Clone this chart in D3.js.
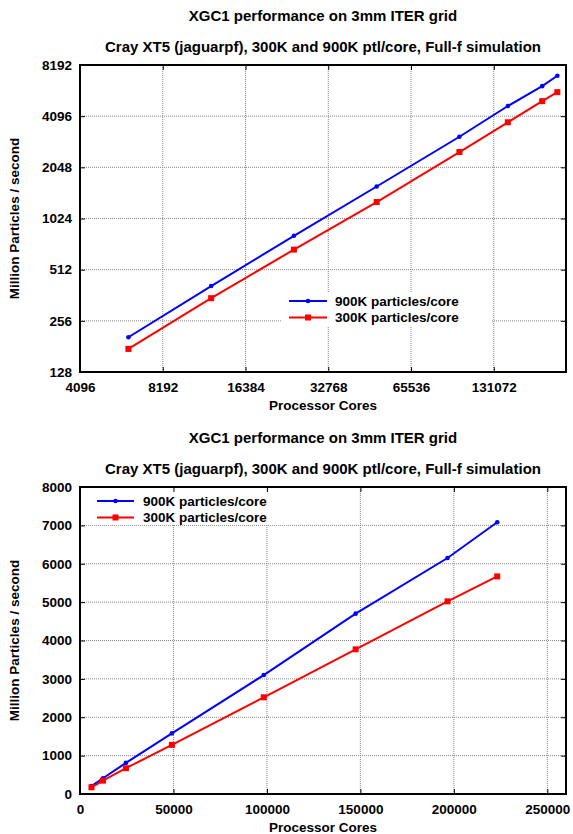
<!DOCTYPE html>
<html>
<head>
<meta charset="utf-8">
<script src="https://cdn.jsdelivr.net/npm/d3@7"></script>
<style>
  body { margin: 0; background: #fff; }
  svg text { font-family: "Liberation Sans", Arial, sans-serif; font-weight: bold; fill: #000; }
  .grid line { stroke: #888; stroke-dasharray: 1,1; }
</style>
</head>
<body>
<svg id="chart" width="573" height="834"></svg>
<script>
// processor cores used in the runs
var cores = [6144, 12288, 24576, 49152, 98304, 147456, 196608, 223200];
// million particles / second
var rate900K = [205, 410, 810, 1580, 3100, 4700, 6150, 7080];
var rate300K = [175, 348, 672, 1280, 2520, 3770, 5020, 5670];

var logXTicks = [4096, 8192, 16384, 32768, 65536, 131072];
var logYTicks = [128, 256, 512, 1024, 2048, 4096, 8192];
var linXTicks = [0, 50000, 100000, 150000, 200000, 250000];
var linYTicks = [0, 1000, 2000, 3000, 4000, 5000, 6000, 7000, 8000];

var title = "XGC1 performance on 3mm ITER grid";
var subtitle = "Cray XT5 (jaguarpf), 300K and 900K ptl/core, Full-f simulation";

var series = [
  { name: "900K particles/core", values: rate900K, color: "#0000ff", marker: "dot" },
  { name: "300K particles/core", values: rate300K, color: "#ff0000", marker: "square" }
];

var svg = d3.select("#chart");

function drawPanel(top, x, y, xTicks, yTicks, legend) {
  var left = 80, right = 566, plotTop = top, plotBottom = top + 307;
  var g = svg.append("g");

  g.append("text").attr("x", (left + right) / 2).attr("y", plotTop - 44)
    .attr("text-anchor", "middle").style("font-size", "15px").text(title);
  g.append("text").attr("x", (left + right) / 2).attr("y", plotTop - 13)
    .attr("text-anchor", "middle").style("font-size", "15px").text(subtitle);

  // grid
  var grid = g.append("g").attr("class", "grid");
  grid.selectAll("line.v").data(xTicks.slice(1)).enter().append("line")
    .attr("x1", x).attr("x2", x).attr("y1", plotTop).attr("y2", plotBottom);
  grid.selectAll("line.h").data(yTicks.slice(1, -1)).enter().append("line")
    .attr("x1", left).attr("x2", right).attr("y1", y).attr("y2", y);

  // legend background blanks the grid
  g.append("rect").attr("x", legend.x0).attr("y", legend.y0)
    .attr("width", legend.x1 - legend.x0).attr("height", legend.y1 - legend.y0)
    .attr("fill", "#fff");

  // axes
  g.append("g").attr("transform", "translate(0," + plotBottom + ")")
    .call(d3.axisBottom(x).tickValues(xTicks).tickFormat(d3.format("d")).tickSize(-5).tickPadding(10));
  g.append("g").attr("transform", "translate(" + left + ",0)")
    .call(d3.axisLeft(y).tickValues(yTicks).tickFormat(d3.format("d")).tickSize(-5).tickPadding(8));
  g.append("g").attr("transform", "translate(0," + plotTop + ")")
    .call(d3.axisTop(x).tickValues(xTicks).tickFormat("").tickSize(-5));
  g.append("g").attr("transform", "translate(" + right + ",0)")
    .call(d3.axisRight(y).tickValues(yTicks).tickFormat("").tickSize(-5));
  g.selectAll(".domain").remove();
  g.selectAll(".tick line").attr("stroke", "#000");
  g.selectAll(".tick text").style("font-size", "13.5px").attr("fill", "#000");
  g.append("rect").attr("x", left).attr("y", plotTop)
    .attr("width", right - left).attr("height", plotBottom - plotTop)
    .attr("fill", "none").attr("stroke", "#000").attr("stroke-width", 2);

  // axis labels
  g.append("text").attr("x", (left + right) / 2).attr("y", plotBottom + 38)
    .attr("text-anchor", "middle").style("font-size", "13.5px").text("Processor Cores");
  g.append("text").attr("transform", "translate(19," + (plotTop + plotBottom) / 2 + ") rotate(-90)")
    .attr("text-anchor", "middle").style("font-size", "13.5px").text("Million Particles / second");

  // series
  var line = d3.line().x(function (d) { return x(d[0]); }).y(function (d) { return y(d[1]); });
  series.forEach(function (s, i) {
    var pts = cores.map(function (c, j) { return [c, s.values[j]]; });
    g.append("path").datum(pts).attr("d", line).attr("fill", "none")
      .attr("stroke", s.color).attr("stroke-width", 2);
    drawMarkers(g, pts.map(function (p) { return [x(p[0]), y(p[1])]; }), s);

    var ly = legend.rowY + i * 16.5;
    g.append("line").attr("x1", legend.lineX0).attr("x2", legend.lineX1)
      .attr("y1", ly).attr("y2", ly).attr("stroke", s.color).attr("stroke-width", 2);
    drawMarkers(g, [[(legend.lineX0 + legend.lineX1) / 2, ly]], s);
    g.append("text").attr("x", legend.textX).attr("y", ly).attr("dy", "0.36em")
      .style("font-size", "13.5px").text(s.name);
  });
}

function drawMarkers(g, pts, s) {
  if (s.marker === "dot") {
    g.selectAll(null).data(pts).enter().append("circle")
      .attr("cx", function (d) { return d[0]; }).attr("cy", function (d) { return d[1]; })
      .attr("r", 2.3).attr("fill", s.color);
  } else {
    g.selectAll(null).data(pts).enter().append("rect")
      .attr("x", function (d) { return d[0] - 3; }).attr("y", function (d) { return d[1] - 3; })
      .attr("width", 6).attr("height", 6).attr("fill", s.color);
  }
}

// top panel: log2-log2
var xLog = d3.scaleLog().base(2).domain([4096, 240000]).range([80, 566]);
var yLog = d3.scaleLog().base(2).domain([128, 8192]).range([372, 65]);
drawPanel(65, xLog, yLog, logXTicks, logYTicks,
  { x0: 282, x1: 492, y0: 293, y1: 327, rowY: 301, lineX0: 289, lineX1: 327, textX: 335 });

// bottom panel: linear
var xLin = d3.scaleLinear().domain([0, 260000]).range([80, 566]);
var yLin = d3.scaleLinear().domain([0, 8000]).range([794, 487]);
drawPanel(487, xLin, yLin, linXTicks, linYTicks,
  { x0: 82, x1: 290, y0: 489, y1: 525, rowY: 501, lineX0: 97, lineX1: 134, textX: 143 });
</script>
</body>
</html>
